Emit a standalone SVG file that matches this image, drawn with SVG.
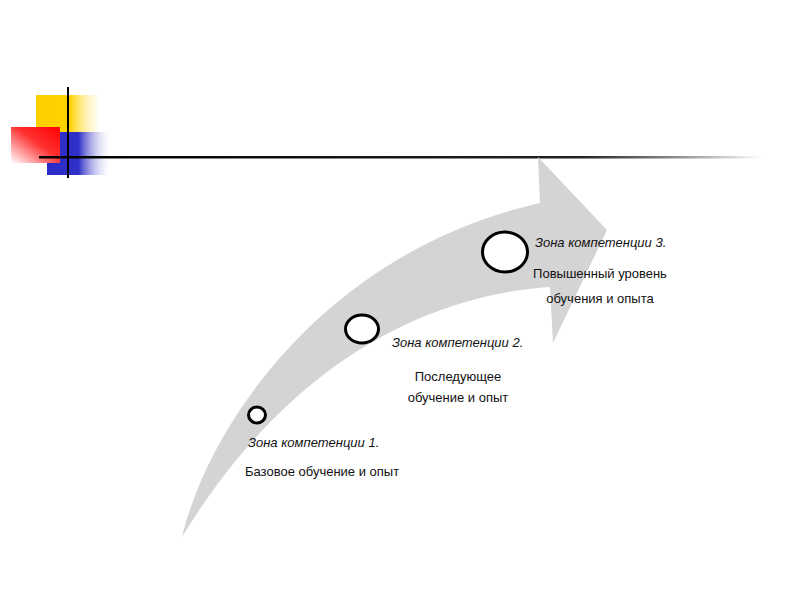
<svg xmlns="http://www.w3.org/2000/svg" width="800" height="600" viewBox="0 0 800 600">
<defs>
<linearGradient id="gy" x1="0" y1="0" x2="1" y2="0"><stop offset="0" stop-color="#ffd000"/><stop offset="0.55" stop-color="#ffd200"/><stop offset="1" stop-color="#fff4c0" stop-opacity="0.3"/></linearGradient>
<linearGradient id="gb" x1="0" y1="0" x2="1" y2="0"><stop offset="0" stop-color="#2a2ac8"/><stop offset="0.5" stop-color="#3030c8"/><stop offset="1" stop-color="#ffffff" stop-opacity="0.2"/></linearGradient>
<linearGradient id="gr" x1="1" y1="0" x2="0" y2="1"><stop offset="0" stop-color="#ff0000"/><stop offset="0.45" stop-color="#ff3030"/><stop offset="1" stop-color="#ffffff"/></linearGradient>
<linearGradient id="gl" x1="0" y1="0" x2="1" y2="0"><stop offset="0" stop-color="#000"/><stop offset="0.75" stop-color="#222"/><stop offset="1" stop-color="#000" stop-opacity="0"/></linearGradient>
<style>
.it{font-family:"Liberation Sans",Arial,sans-serif;font-style:italic;font-size:13px;fill:#111}
.tx{font-family:"Liberation Sans",Arial,sans-serif;font-size:13px;fill:#111}
.c{fill:#fff;stroke:#000;stroke-width:3}
</style>
</defs>
<rect width="800" height="600" fill="#fff"/>
<g id="logo">
<rect x="36" y="95" width="61" height="38" fill="url(#gy)"/>
<rect x="47" y="132" width="63" height="43" fill="url(#gb)"/>
<rect x="11" y="127" width="49" height="36" fill="url(#gr)"/>
<line x1="68" y1="87" x2="68" y2="178" stroke="#000" stroke-width="2"/>
<rect x="39" y="156" width="722" height="2.5" fill="url(#gl)"/>
</g>
<g id="arrow">
<path d="M182,537 C210,420 330,250 540,203 L538,157 L607,230 L553,343 L550,287 C430,295 290,360 182,537 Z" fill="#d4d4d4"/>
</g>
<g id="zone1">
<ellipse class="c" cx="257" cy="415" rx="8.5" ry="8"/>
<text class="it" x="248" y="447">Зона компетенции 1.</text>
<text class="tx" x="245" y="476">Базовое обучение и опыт</text>
</g>
<g id="zone2">
<ellipse class="c" cx="362" cy="329" rx="16.5" ry="14"/>
<text class="it" x="392" y="347">Зона компетенции 2.</text>
<text class="tx" x="458" y="381" text-anchor="middle">Последующее</text>
<text class="tx" x="458" y="402" text-anchor="middle">обучение и опыт</text>
</g>
<g id="zone3">
<ellipse class="c" cx="505" cy="252" rx="22.5" ry="20"/>
<text class="it" x="535" y="247">Зона компетенции 3.</text>
<text class="tx" x="600" y="278" text-anchor="middle">Повышенный уровень</text>
<text class="tx" x="600" y="303" text-anchor="middle">обучения и опыта</text>
</g>
</svg>
